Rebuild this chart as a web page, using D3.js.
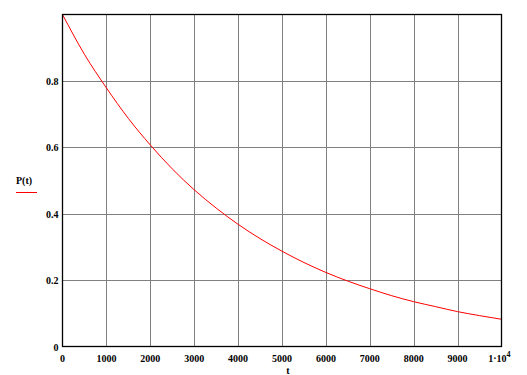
<!DOCTYPE html>
<html><head><meta charset="utf-8">
<script src="https://cdn.jsdelivr.net/npm/d3@7"></script>
<style>body{margin:0;background:#fff}svg{display:block}text{font-family:"Liberation Serif","Times New Roman",serif;font-weight:bold;font-size:10px;fill:#000}</style>
</head><body><svg id="c" width="527" height="375"></svg>
<script>
const tValues = [0,500,1000,1500,2000,2500,3000,3500,4000,4500,5000,5500,6000,6500,7000,7500,8000,8500,9000,9500,10000];
const pValues = [1.0,0.88,0.779,0.687,0.607,0.535,0.472,0.417,0.368,0.325,0.287,0.253,0.223,0.197,0.174,0.153,0.135,0.12,0.105,0.093,0.082];
const xTicks = [0,1000,2000,3000,4000,5000,6000,7000,8000,9000,10000];
const yTicks = [0,0.2,0.4,0.6,0.8];
const yTickLabels = ["0","0.2","0.4","0.6","0.8"];

const svg = d3.select("#c");
const L=62.5,R=501.5,T=14.5,B=346.5;
const x = d3.scaleLinear().domain([0,10000]).range([L,R]);
const y = d3.scaleLinear().domain([0,1]).range([B,T]);

// grid
svg.append("g").selectAll("line").data(xTicks.slice(1,-1)).join("line")
  .attr("x1",d=>Math.round(x(d))+0.5).attr("x2",d=>Math.round(x(d))+0.5).attr("y1",T).attr("y2",B)
  .attr("stroke","#808080").attr("stroke-width",1);
svg.append("g").selectAll("line").data(yTicks.slice(1)).join("line")
  .attr("y1",d=>Math.round(y(d))+0.5).attr("y2",d=>Math.round(y(d))+0.5).attr("x1",L).attr("x2",R)
  .attr("stroke","#808080").attr("stroke-width",1);

// curve
const line = d3.line().x((d,i)=>x(tValues[i])).y(d=>y(d)).curve(d3.curveMonotoneX);
svg.append("path").datum(pValues).attr("d",line).attr("fill","none").attr("stroke","#ff0000").attr("stroke-width",1);

// frame
svg.append("rect").attr("x",L).attr("y",T).attr("width",R-L).attr("height",B-T)
  .attr("fill","none").attr("stroke","#000").attr("stroke-width",1.3);

// y labels
svg.append("g").selectAll("text").data(yTicks).join("text")
  .attr("x",L-4).attr("y",d=>y(d)+4).attr("text-anchor","end").text((d,i)=>yTickLabels[i]);

// x labels
const xl = svg.append("g");
xTicks.forEach((d,i)=>{
  if(i===xTicks.length-1){
    const t = xl.append("text").attr("x",x(d)+9).attr("y",362).attr("text-anchor","end");
    t.append("tspan").text("1·10");
    t.append("tspan").attr("dy",-5).attr("font-size","8px").text("4");
  } else {
    xl.append("text").attr("x",x(d)).attr("y",362).attr("text-anchor","middle").text(d);
  }
});

svg.append("text").attr("x",288).attr("y",374).attr("text-anchor","middle").text("t");
svg.append("text").attr("x",16).attr("y",184).text("P(t)");
svg.append("line").attr("x1",16).attr("x2",37).attr("y1",192.5).attr("y2",192.5).attr("stroke","#ff0000").attr("stroke-width",1);
</script></body></html>
